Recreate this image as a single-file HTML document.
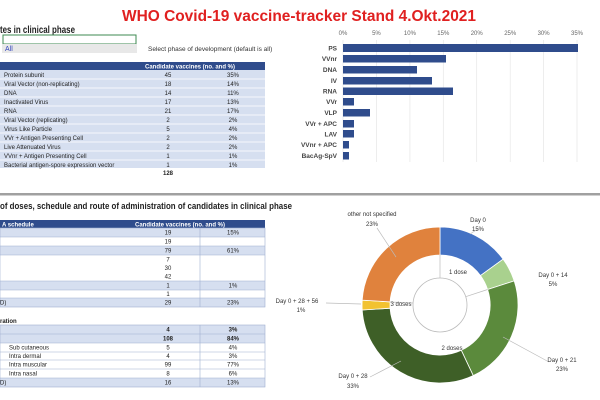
<!DOCTYPE html>
<html><head><meta charset="utf-8"><style>
body{margin:0;background:#fff}
svg{display:block;font-family:"Liberation Sans",sans-serif}
</style></head><body>
<svg width="600" height="400" viewBox="0 0 600 400" xmlns="http://www.w3.org/2000/svg">
<rect width="600" height="400" fill="#fff"/>
<text x="122" y="21" textLength="354" lengthAdjust="spacingAndGlyphs" font-size="16" font-weight="bold" fill="#e02020">WHO Covid-19 vaccine-tracker Stand 4.Okt.2021</text>
<text x="0" y="33" textLength="75" lengthAdjust="spacingAndGlyphs" font-size="10.5" font-weight="bold" fill="#222">tes in clinical phase</text>
<rect x="3" y="35" width="133" height="9" fill="#fff" stroke="#3c8a50" stroke-width="1"/>
<rect x="2" y="44" width="135" height="9" fill="#e8e8e8"/>
<text x="5" y="51" font-size="7" fill="#3344bb">All</text>
<text x="148" y="51" font-size="6.5" fill="#333">Select phase of development (default is all)</text>
<!-- table 1 -->
<rect x="0" y="62" width="265" height="8" fill="#2f4c8c"/>
<text x="190" y="68.5" text-anchor="middle" font-size="6" font-weight="bold" fill="#fff">Candidate vaccines (no. and %)</text>
<g font-size="6" fill="#222">
<rect x="0" y="70" width="265" height="98" fill="#d6dff0"/>
<g stroke="#fff" stroke-width="0.8">
<line x1="0" y1="79" x2="265" y2="79"/><line x1="0" y1="88" x2="265" y2="88"/><line x1="0" y1="97" x2="265" y2="97"/><line x1="0" y1="106" x2="265" y2="106"/><line x1="0" y1="115" x2="265" y2="115"/><line x1="0" y1="124" x2="265" y2="124"/><line x1="0" y1="133" x2="265" y2="133"/><line x1="0" y1="142" x2="265" y2="142"/><line x1="0" y1="151" x2="265" y2="151"/><line x1="0" y1="160" x2="265" y2="160"/>
</g>
<text x="4" y="77">Protein subunit</text><text x="168" y="77" text-anchor="middle">45</text><text x="233" y="77" text-anchor="middle">35%</text>
<text x="4" y="86">Viral Vector (non-replicating)</text><text x="168" y="86" text-anchor="middle">18</text><text x="233" y="86" text-anchor="middle">14%</text>
<text x="4" y="95">DNA</text><text x="168" y="95" text-anchor="middle">14</text><text x="233" y="95" text-anchor="middle">11%</text>
<text x="4" y="104">Inactivated Virus</text><text x="168" y="104" text-anchor="middle">17</text><text x="233" y="104" text-anchor="middle">13%</text>
<text x="4" y="113">RNA</text><text x="168" y="113" text-anchor="middle">21</text><text x="233" y="113" text-anchor="middle">17%</text>
<text x="4" y="122">Viral Vector (replicating)</text><text x="168" y="122" text-anchor="middle">2</text><text x="233" y="122" text-anchor="middle">2%</text>
<text x="4" y="131">Virus Like Particle</text><text x="168" y="131" text-anchor="middle">5</text><text x="233" y="131" text-anchor="middle">4%</text>
<text x="4" y="140">VVr + Antigen Presenting Cell</text><text x="168" y="140" text-anchor="middle">2</text><text x="233" y="140" text-anchor="middle">2%</text>
<text x="4" y="149">Live Attenuated Virus</text><text x="168" y="149" text-anchor="middle">2</text><text x="233" y="149" text-anchor="middle">2%</text>
<text x="4" y="158">VVnr + Antigen Presenting Cell</text><text x="168" y="158" text-anchor="middle">1</text><text x="233" y="158" text-anchor="middle">1%</text>
<text x="4" y="167">Bacterial antigen-spore expression vector</text><text x="168" y="167" text-anchor="middle">1</text><text x="233" y="167" text-anchor="middle">1%</text>
<text x="168" y="175" text-anchor="middle" font-weight="bold">128</text>
</g>
<!-- bar chart -->
<g font-size="6" fill="#666" text-anchor="middle">
<text x="343" y="35">0%</text><text x="376.4" y="35">5%</text><text x="409.9" y="35">10%</text><text x="443.3" y="35">15%</text><text x="476.7" y="35">20%</text><text x="510.2" y="35">25%</text><text x="543.6" y="35">30%</text><text x="577" y="35">35%</text>
</g>
<g stroke="#e6e6e6" stroke-width="0.7">
<line x1="343" y1="40" x2="343" y2="162"/><line x1="376.4" y1="40" x2="376.4" y2="162"/><line x1="409.9" y1="40" x2="409.9" y2="162"/><line x1="443.3" y1="40" x2="443.3" y2="162"/><line x1="476.7" y1="40" x2="476.7" y2="162"/><line x1="510.2" y1="40" x2="510.2" y2="162"/><line x1="543.6" y1="40" x2="543.6" y2="162"/><line x1="577" y1="40" x2="577" y2="162"/>
</g>
<g fill="#2f4c8c">
<rect x="343" y="44" width="235" height="8"/>
<rect x="343" y="55" width="103" height="7.5"/>
<rect x="343" y="66" width="74" height="7.5"/>
<rect x="343" y="77" width="89" height="7.5"/>
<rect x="343" y="87.5" width="110" height="7.5"/>
<rect x="343" y="98" width="11" height="7.5"/>
<rect x="343" y="109" width="27" height="7.5"/>
<rect x="343" y="120" width="11" height="7.5"/>
<rect x="343" y="130" width="11" height="7.5"/>
<rect x="343" y="141" width="6" height="7.5"/>
<rect x="343" y="152" width="6" height="7.5"/>
</g>
<g font-size="6.5" font-weight="bold" fill="#444" text-anchor="end">
<text x="337" y="50.5">PS</text><text x="337" y="61">VVnr</text><text x="337" y="72">DNA</text><text x="337" y="83">IV</text><text x="337" y="93.5">RNA</text><text x="337" y="104">VVr</text><text x="337" y="115">VLP</text><text x="337" y="126">VVr + APC</text><text x="337" y="136.5">LAV</text><text x="337" y="147">VVnr + APC</text><text x="337" y="158">BacAg-SpV</text>
</g>
<!-- separator -->
<rect x="0" y="193" width="600" height="2.5" fill="#a0a0a0"/>
<text x="0" y="209" textLength="292" lengthAdjust="spacingAndGlyphs" font-size="9.5" font-weight="bold" fill="#222">of doses, schedule and route of administration of candidates in clinical phase</text>
<!-- table 2 -->
<g font-size="6" fill="#222">
<rect x="0" y="220" width="265" height="8" fill="#2f4c8c"/>
<text x="2" y="226.5" font-weight="bold" fill="#fff">A schedule</text>
<text x="180" y="226.5" text-anchor="middle" font-weight="bold" fill="#fff">Candidate vaccines (no. and %)</text>
<rect x="0" y="228" width="265" height="9" fill="#d6dff0"/>
<rect x="0" y="246" width="265" height="9" fill="#d6dff0"/>
<rect x="0" y="281" width="265" height="9" fill="#d6dff0"/>
<rect x="0" y="298" width="265" height="9" fill="#d6dff0"/>
<rect x="0" y="228" width="265" height="79" fill="none" stroke="#9fb0d0" stroke-width="0.6"/>
<g stroke="#9fb0d0" stroke-width="0.6"><line x1="200" y1="228" x2="200" y2="307"/><line x1="0" y1="237" x2="265" y2="237"/><line x1="0" y1="246" x2="265" y2="246"/><line x1="0" y1="255" x2="265" y2="255"/><line x1="0" y1="281" x2="265" y2="281"/><line x1="0" y1="290" x2="265" y2="290"/><line x1="0" y1="298" x2="265" y2="298"/></g>
<text x="168" y="234.5" text-anchor="middle">19</text><text x="233" y="234.5" text-anchor="middle">15%</text>
<text x="168" y="243.5" text-anchor="middle">19</text>
<text x="168" y="252.5" text-anchor="middle">79</text><text x="233" y="252.5" text-anchor="middle">61%</text>
<text x="168" y="261.5" text-anchor="middle">7</text><text x="168" y="270" text-anchor="middle">30</text><text x="168" y="278.5" text-anchor="middle">42</text>
<text x="168" y="287.5" text-anchor="middle">1</text><text x="233" y="287.5" text-anchor="middle">1%</text>
<text x="168" y="296" text-anchor="middle">1</text>
<text x="0" y="304.5">D)</text><text x="168" y="304.5" text-anchor="middle">29</text><text x="233" y="304.5" text-anchor="middle">23%</text>
<text x="0" y="323" font-weight="bold">ration</text>
<rect x="0" y="325" width="265" height="18" fill="#d6dff0"/>
<rect x="0" y="378" width="265" height="9" fill="#d6dff0"/>
<rect x="0" y="325" width="265" height="62" fill="none" stroke="#9fb0d0" stroke-width="0.6"/>
<g stroke="#9fb0d0" stroke-width="0.6"><line x1="200" y1="325" x2="200" y2="387"/><line x1="0" y1="334" x2="265" y2="334"/><line x1="0" y1="343" x2="265" y2="343"/><line x1="0" y1="352" x2="265" y2="352"/><line x1="0" y1="360" x2="265" y2="360"/><line x1="0" y1="369" x2="265" y2="369"/><line x1="0" y1="378" x2="265" y2="378"/></g>
<text x="168" y="331.5" text-anchor="middle" font-weight="bold">4</text><text x="233" y="331.5" text-anchor="middle" font-weight="bold">3%</text>
<text x="168" y="340.5" text-anchor="middle" font-weight="bold">108</text><text x="233" y="340.5" text-anchor="middle" font-weight="bold">84%</text>
<text x="9" y="349.5">Sub cutaneous</text><text x="168" y="349.5" text-anchor="middle">5</text><text x="233" y="349.5" text-anchor="middle">4%</text>
<text x="9" y="358">Intra dermal</text><text x="168" y="358" text-anchor="middle">4</text><text x="233" y="358" text-anchor="middle">3%</text>
<text x="9" y="366.5">Intra muscular</text><text x="168" y="366.5" text-anchor="middle">99</text><text x="233" y="366.5" text-anchor="middle">77%</text>
<text x="9" y="375.5">Intra nasal</text><text x="168" y="375.5" text-anchor="middle">8</text><text x="233" y="375.5" text-anchor="middle">6%</text>
<text x="0" y="384.5">D)</text><text x="168" y="384.5" text-anchor="middle">16</text><text x="233" y="384.5" text-anchor="middle">13%</text>
</g>
<!-- donut -->
<g stroke="#fff" stroke-width="0.8">
<path d="M440,227 A78,78 0 0 1 503.1,259.2 L480.5,275.6 A50,50 0 0 0 440,255 Z" fill="#4472c4"/>
<path d="M503.1,259.2 A78,78 0 0 1 514.2,280.9 L487.6,289.5 A50,50 0 0 0 480.5,275.6 Z" fill="#a9d18e"/>
<path d="M514.2,280.9 A78,78 0 0 1 473.2,375.6 L461.3,350.3 A50,50 0 0 0 487.6,289.5 Z" fill="#5b8a3c"/>
<path d="M473.2,375.6 A78,78 0 0 1 362.2,310.0 L390.1,308.2 A50,50 0 0 0 461.3,350.3 Z" fill="#3e5f27"/>
<path d="M362.2,310.0 A78,78 0 0 1 362.2,300.1 L390.1,301.9 A50,50 0 0 0 390.1,308.2 Z" fill="#f2c230"/>
<path d="M362.2,300.1 A78,78 0 0 1 440,227 L440,255 A50,50 0 0 0 390.1,301.9 Z" fill="#e0823d"/>
</g>
<circle cx="440" cy="305" r="27" fill="none" stroke="#bbb" stroke-width="0.8"/>
<g stroke="#bbb" stroke-width="0.7" fill="none">
<line x1="440" y1="278" x2="440" y2="255"/>
<line x1="465.7" y1="296.7" x2="487.6" y2="289.5"/>
<line x1="413" y1="303" x2="390" y2="302"/>
<polyline points="470,234 478,229"/>
<polyline points="396,257 377,228"/>
<polyline points="503,337 549,362"/>
<polyline points="401,361 370,377"/>
<polyline points="361,304 326,303"/>
</g>
<g font-size="6" fill="#333" text-anchor="middle">
<text x="372" y="216">other not specified</text><text x="372" y="226">23%</text>
<text x="478" y="222">Day 0</text><text x="478" y="231">15%</text>
<text x="553" y="277">Day 0 + 14</text><text x="553" y="286">5%</text>
<text x="562" y="362">Day 0 + 21</text><text x="562" y="371">23%</text>
<text x="353" y="378">Day 0 + 28</text><text x="353" y="388">33%</text>
<text x="297" y="303">Day 0 + 28 + 56</text><text x="301" y="312">1%</text>
<text x="458" y="274">1 dose</text>
<text x="452" y="350">2 doses</text>
<text x="401" y="306">3 doses</text>
</g>
</svg>
</body></html>
